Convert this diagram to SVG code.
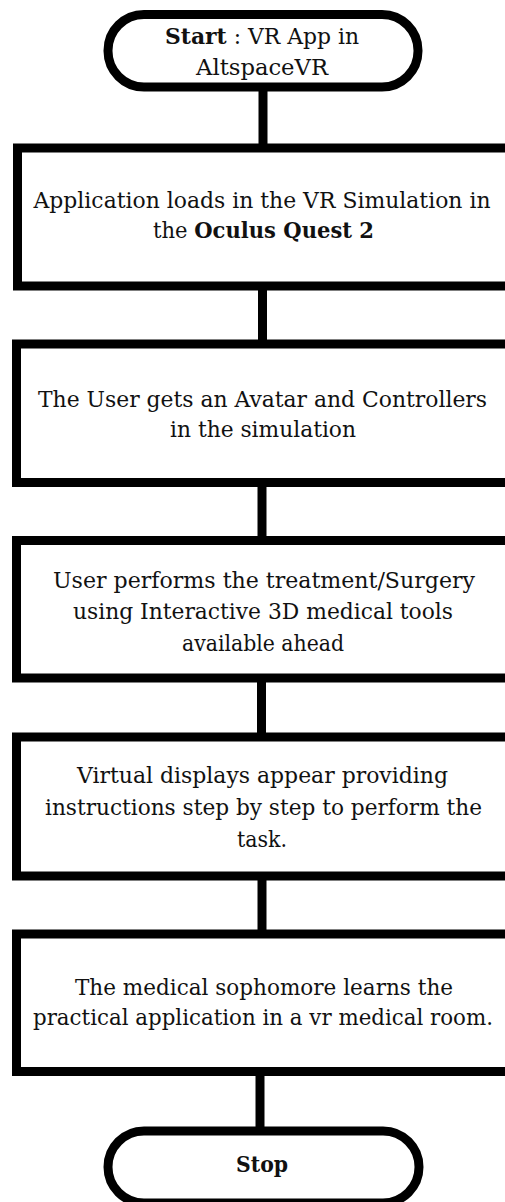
<svg xmlns="http://www.w3.org/2000/svg" width="505" height="1202" viewBox="0 0 505 1202">
  <style>
    .term { fill: #ffffff; stroke: #000000; stroke-width: 9; }
    .box { fill: #ffffff; stroke: #000000; stroke-width: 9; }
    .link { stroke: #000000; stroke-width: 9; fill: none; }
    .label { font-family: "DejaVu Serif", "Liberation Serif", serif; font-size: 22px; fill: #111111; text-anchor: middle; }
    .b { font-weight: bold; }
  </style>
  <rect width="505" height="1202" fill="#ffffff"/>

  <!-- vertical flow connectors -->
  <g id="connectors">
    <line class="link" x1="263" y1="90" x2="263" y2="144"/>
    <line class="link" x1="262.5" y1="290" x2="262.5" y2="341"/>
    <line class="link" x1="262" y1="486" x2="262" y2="537"/>
    <line class="link" x1="261.5" y1="682" x2="261.5" y2="734"/>
    <line class="link" x1="262" y1="880" x2="262" y2="931"/>
    <line class="link" x1="260" y1="1075" x2="260" y2="1128"/>
  </g>

  <g id="start">
    <rect class="term" x="108" y="14.5" width="310" height="72.5" rx="36" ry="36"/>
    <text class="label" x="262" y="44" textLength="194" lengthAdjust="spacingAndGlyphs"><tspan class="b">Start</tspan> : VR App in</text>
    <text class="label" x="262" y="75" textLength="132" lengthAdjust="spacingAndGlyphs">AltspaceVR</text>
  </g>

  <g id="load-app">
    <rect class="box" x="17.5" y="148" width="500" height="138"/>
    <text class="label" x="262" y="208" textLength="457" lengthAdjust="spacingAndGlyphs">Application loads in the VR Simulation in</text>
    <text class="label" x="263.5" y="238" textLength="221" lengthAdjust="spacingAndGlyphs">the <tspan class="b">Oculus Quest 2</tspan></text>
  </g>

  <g id="avatar">
    <rect class="box" x="16.5" y="344" width="500" height="138.5"/>
    <text class="label" x="262.5" y="406.5" textLength="449" lengthAdjust="spacingAndGlyphs">The User gets an Avatar and Controllers</text>
    <text class="label" x="263" y="436.5" textLength="186" lengthAdjust="spacingAndGlyphs">in the simulation</text>
  </g>

  <g id="treatment">
    <rect class="box" x="16.5" y="540.5" width="500" height="137.5"/>
    <text class="label" x="264" y="588" textLength="422" lengthAdjust="spacingAndGlyphs">User performs the treatment/Surgery</text>
    <text class="label" x="263" y="618.5" textLength="380" lengthAdjust="spacingAndGlyphs">using Interactive 3D medical tools</text>
    <text class="label" x="263" y="651" textLength="162" lengthAdjust="spacingAndGlyphs">available ahead</text>
  </g>

  <g id="instructions">
    <rect class="box" x="16.5" y="737" width="500" height="139"/>
    <text class="label" x="262.5" y="783" textLength="371" lengthAdjust="spacingAndGlyphs">Virtual displays appear providing</text>
    <text class="label" x="263.5" y="815" textLength="437" lengthAdjust="spacingAndGlyphs">instructions step by step to perform the</text>
    <text class="label" x="262" y="846.5" textLength="50" lengthAdjust="spacingAndGlyphs">task.</text>
  </g>

  <g id="learn">
    <rect class="box" x="16.5" y="934" width="500" height="137.5"/>
    <text class="label" x="264" y="995" textLength="378" lengthAdjust="spacingAndGlyphs">The medical sophomore learns the</text>
    <text class="label" x="263" y="1025" textLength="460" lengthAdjust="spacingAndGlyphs">practical application in a vr medical room.</text>
  </g>

  <g id="stop">
    <rect class="term" x="108" y="1131" width="311" height="72" rx="36" ry="36"/>
    <text class="label b" x="262" y="1172" textLength="52" lengthAdjust="spacingAndGlyphs">Stop</text>
  </g>
</svg>
